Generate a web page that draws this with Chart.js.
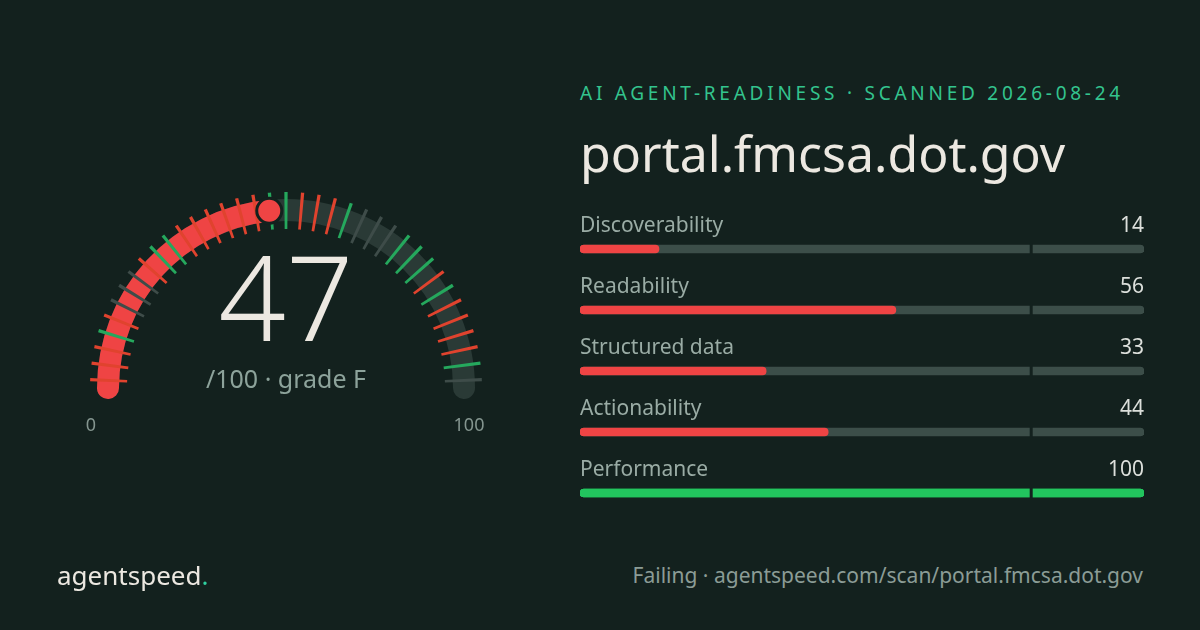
<!DOCTYPE html>
<html><head><meta charset="utf-8">
<script src="https://cdn.jsdelivr.net/npm/chart.js@4.4.1/dist/chart.umd.min.js"></script>
<style>
html,body{margin:0;padding:0;background:#13211e;}
#root{position:relative;width:1200px;height:630px;overflow:hidden;background:#13211e;font-family:'Noto Sans',sans-serif;}
.t{position:absolute;white-space:nowrap;line-height:1;}
canvas{position:absolute;}
</style></head><body>
<div id="root">
  <canvas id="gTrack" width="420" height="420" style="left:76px;top:178px"></canvas>
  <canvas id="gValue" width="420" height="420" style="left:76px;top:178px"></canvas>
  <canvas id="gTicks" width="420" height="420" style="left:76px;top:178px"></canvas>
  <canvas id="bars" width="600" height="340" style="left:560px;top:195px"></canvas>

  <div class="t" id="hdr" style="left:580px;top:83.8px;font-size:19px;letter-spacing:3.75px;color:#33c48e;"></div>
  <div class="t" id="site" style="left:580px;top:127.6px;font-size:50px;color:#ece8e1;"></div>
  <div class="t" id="score" style="left:86px;width:400px;text-align:center;top:237px;font-size:118px;font-weight:300;color:#ece8e1;"></div>
  <div class="t" id="sub" style="left:86px;width:400px;text-align:center;top:365.8px;font-size:25px;color:#8da39b;"></div>
  <div class="t" id="g0" style="left:61px;width:60px;text-align:center;top:414.5px;font-size:18px;color:#84958f;"></div>
  <div class="t" id="g100" style="left:439px;width:60px;text-align:center;top:414.5px;font-size:18px;color:#84958f;"></div>
  <div class="t" style="left:57px;top:561.9px;font-size:26px;color:#ece8e1;">agentspeed<span style="color:#2fd0a0">.</span></div>
  <div class="t" id="foot" style="right:57px;top:565.3px;font-size:21px;color:#8b9c96;"></div>
</div>
<script>
// ---- data ----
const site = 'portal.fmcsa.dot.gov';
const scanDate = '2026-08-24';
const score = 47;
const grade = 'F';
const status = 'Failing';
const gaugeTickLabels = ['0', '100'];
// 37 individual checks, left (0) to right (100)
const checks = ['fail','fail','fail','pass','fail','skip','skip','skip','fail','pass','pass','fail','fail','fail','fail','fail','fail','pass',
                'pass','fail','fail','fail','pass','skip','skip','skip','pass','pass','pass','fail','pass','fail','fail','fail','fail','pass','skip'];
const categories = ['Discoverability', 'Readability', 'Structured data', 'Actionability', 'Performance'];
const categoryScores = [14, 56, 33, 44, 100];
const passMark = 80;

// ---- style ----
const BG = '#13211e';
const RED = '#ef4444', GREEN = '#22c55e';
const TRACK = '#2a3a36', BAR_TRACK = '#3c4e49';
const TICK = {fail:'#e0432e', pass:'#25a85d', skip:'#3e4c49'};
const CLEAR = 'rgba(0,0,0,0)';
const R = 178, HALF = 11, T_IN = 159, T_OUT = 196;
const capUnits = (HALF / R) * (180 / Math.PI) / 1.8; // 100 units = 180deg
const capRad = HALF / R;

document.getElementById('hdr').textContent = 'AI AGENT-READINESS · SCANNED ' + scanDate;
document.getElementById('site').textContent = site;
document.getElementById('score').textContent = String(score);
document.getElementById('sub').textContent = '/100 · grade ' + grade;
document.getElementById('g0').textContent = gaugeTickLabels[0];
document.getElementById('g100').textContent = gaugeTickLabels[1];
document.getElementById('foot').textContent = status + ' · agentspeed.com/scan/' + site;

function ring(id, data, colors, outer, inner, rot, radii, plugins) {
  return new Chart(document.getElementById(id), {
    type: 'doughnut',
    data: { datasets: [{ data, backgroundColor: colors, borderWidth: 0, borderRadius: radii }] },
    options: {
      responsive: false, animation: false, events: [],
      rotation: rot, circumference: 360, radius: outer, cutout: (inner / outer * 100) + '%',
      plugins: { legend: { display: false }, tooltip: { enabled: false } }
    },
    plugins: plugins || []
  });
}

const rot0 = -90 - capUnits * 1.8;
ring('gTrack', [100 + 2 * capUnits, 100 - 2 * capUnits], [TRACK, CLEAR], R + HALF, R - HALF, rot0, [HALF, 0]);
const valueChart = ring('gValue', [score + 2 * capUnits, 200 - score - 2 * capUnits], [RED, CLEAR], R + HALF, R - HALF, rot0, [HALF, 0]);

const slot = 100 / checks.length;
const tickW = (3 / R) * (180 / Math.PI) / 1.8;
const tData = [], tColors = [];
checks.forEach(c => {
  tData.push((slot - tickW) / 2, tickW, (slot - tickW) / 2);
  tColors.push(CLEAR, TICK[c], CLEAR);
});
tData.push(100); tColors.push(CLEAR);

const dotPlugin = {
  id: 'dot',
  afterDatasetsDraw(chart) {
    const el = valueChart.getDatasetMeta(0).data[0];
    const a = el.endAngle - capRad;
    const x = el.x + R * Math.cos(a), y = el.y + R * Math.sin(a);
    const ctx = chart.ctx;
    ctx.save();
    ctx.beginPath();
    ctx.arc(x, y, 12.5, 0, Math.PI * 2);
    ctx.fillStyle = RED;
    ctx.fill();
    ctx.lineWidth = 3;
    ctx.strokeStyle = BG;
    ctx.stroke();
    ctx.restore();
  }
};
ring('gTicks', tData, tColors, T_OUT, T_IN, -90, 0, [dotPlugin]);

const barDecor = {
  id: 'barDecor',
  afterDatasetsDraw(chart) {
    const ctx = chart.ctx, xs = chart.scales.x, ys = chart.scales.y, area = chart.chartArea;
    const gx = xs.getPixelForValue(passMark);
    ctx.save();
    ctx.fillStyle = BG;
    categories.forEach((c, i) => {
      const y = ys.getPixelForValue(i);
      ctx.fillRect(gx - 1.5, y - 6, 3, 12);
    });
    ctx.font = '21px "Noto Sans"';
    ctx.textBaseline = 'alphabetic';
    categories.forEach((c, i) => {
      const y = ys.getPixelForValue(i) - 17.5;
      ctx.textAlign = 'left';
      ctx.fillStyle = '#9aaca5';
      ctx.fillText(c, area.left, y);
      ctx.textAlign = 'right';
      ctx.fillStyle = '#dcdfdb';
      ctx.fillText(String(categoryScores[i]), area.right, y);
    });
    ctx.restore();
  }
};

new Chart(document.getElementById('bars'), {
  type: 'bar',
  data: {
    labels: categories,
    datasets: [
      { data: categoryScores, backgroundColor: categoryScores.map(v => v >= passMark ? GREEN : RED), order: 1 },
      { data: categories.map(() => 100), backgroundColor: categoryScores.map(v => v >= passMark ? GREEN : BAR_TRACK), order: 2 }
    ]
  },
  options: {
    indexAxis: 'y', responsive: false, animation: false, events: [],
    layout: { padding: { left: 20, right: 16, top: 23.5, bottom: 11.5 } },
    scales: { x: { display: false, min: 0, max: 100 }, y: { display: false } },
    datasets: { bar: { barThickness: 8, borderRadius: 4, borderSkipped: false, grouped: false, borderWidth: 0 } },
    plugins: { legend: { display: false }, tooltip: { enabled: false } }
  },
  plugins: [barDecor]
});
</script>
</body></html>
